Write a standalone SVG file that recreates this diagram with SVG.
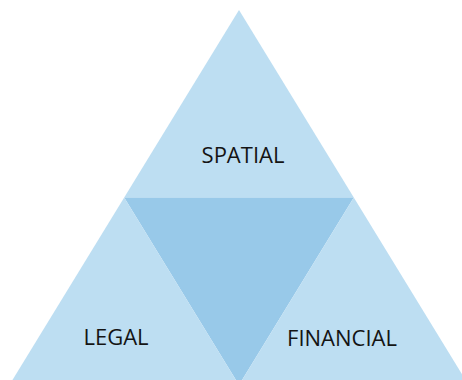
<svg xmlns="http://www.w3.org/2000/svg" width="462" height="380" viewBox="0 0 462 380">
<style>
.light{fill:#bddef2}
.dark{fill:#98c9e9}
.lbl{font-family:"Open Sans","Liberation Sans",sans-serif;font-size:22px;fill:#141414;text-anchor:middle}
</style>
<rect width="462" height="380" fill="#ffffff"/>
<g id="spatial">
<polygon class="light" points="239,10 353.8,197.5 124.2,197.5"/>
<text class="lbl" x="243" y="163">SPATIAL</text>
</g>
<g id="center">
<polygon class="dark" points="124.2,197.5 353.8,197.5 239,385"/>
</g>
<g id="legal">
<polygon class="light" points="124.2,197.5 239,385 9.4,385"/>
<text class="lbl" x="116" y="345">LEGAL</text>
</g>
<g id="financial">
<polygon class="light" points="353.8,197.5 468.6,385 239,385"/>
<text class="lbl" x="342" y="346">FINANCIAL</text>
</g>
<g id="connectors"></g>
</svg>
